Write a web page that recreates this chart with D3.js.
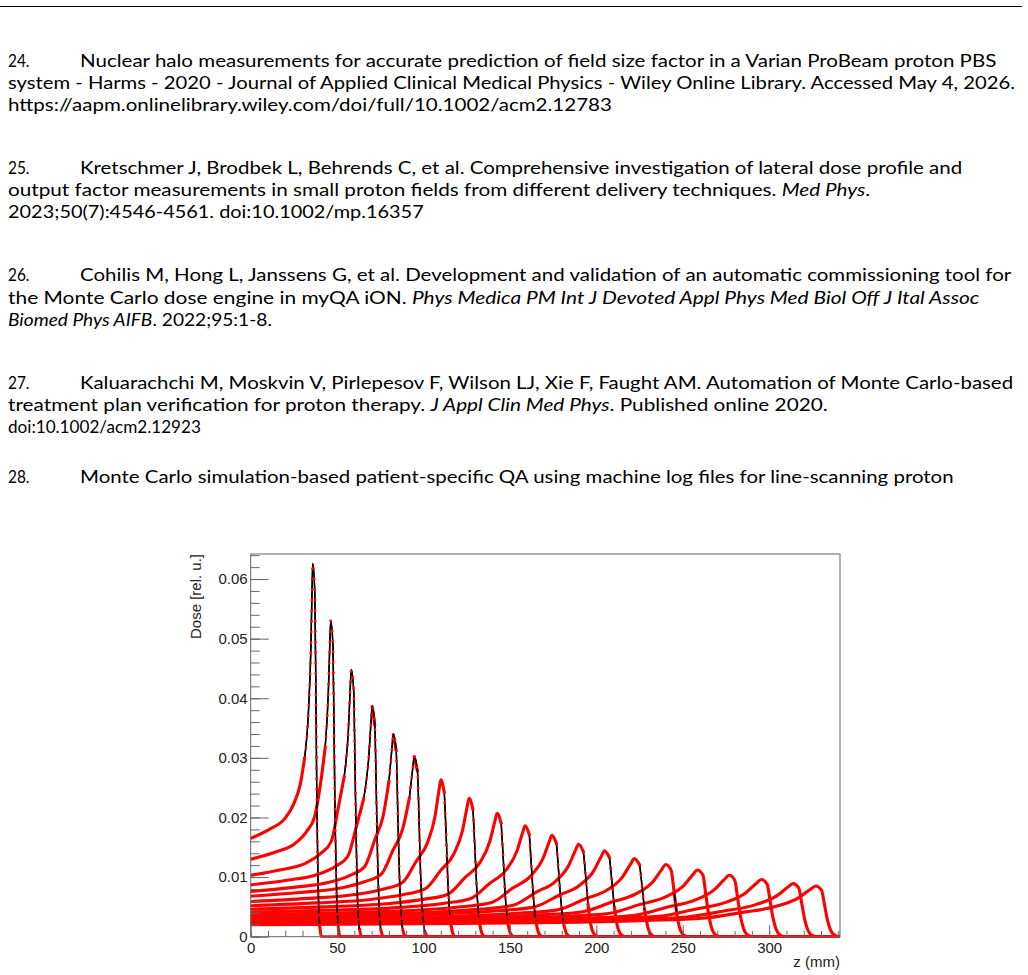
<!DOCTYPE html>
<html>
<head>
<meta charset="utf-8">
<script src="https://cdn.jsdelivr.net/npm/d3@7"></script>
<style>
body{margin:0;background:#fff;}
svg{display:block;}
</style>
</head>
<body>
<svg id="page" width="1028" height="975"></svg>
<script>
// ---- reference list text (page above the figure)
var refNumbers = ["24.", null, null, "25.", null, null, "26.", null, null, "27.", null, null, "28."];
var refText = [
  [["Nuclear halo measurements for accurate prediction of field size factor in a Varian ProBeam proton PBS", 0]],
  [["system - Harms - 2020 - Journal of Applied Clinical Medical Physics - Wiley Online Library. Accessed May 4, 2026.", 0]],
  [["https://aapm.onlinelibrary.wiley.com/doi/full/10.1002/acm2.12783", 0]],
  [["Kretschmer J, Brodbek L, Behrends C, et al. Comprehensive investigation of lateral dose profile and", 0]],
  [["output factor measurements in small proton fields from different delivery techniques. ", 0], ["Med Phys", 1], [".", 0]],
  [["2023;50(7):4546-4561. doi:10.1002/mp.16357", 0]],
  [["Cohilis M, Hong L, Janssens G, et al. Development and validation of an automatic commissioning tool for", 0]],
  [["the Monte Carlo dose engine in myQA iON. ", 0], ["Phys Medica PM Int J Devoted Appl Phys Med Biol Off J Ital Assoc", 1]],
  [["Biomed Phys AIFB", 1], [". 2022;95:1-8.", 0]],
  [["Kaluarachchi M, Moskvin V, Pirlepesov F, Wilson LJ, Xie F, Faught AM. Automation of Monte Carlo-based", 0]],
  [["treatment plan verification for proton therapy. ", 0], ["J Appl Clin Med Phys", 1], [". Published online 2020.", 0]],
  [["doi:10.1002/acm2.12923", 0]],
  [["Monte Carlo simulation-based patient-specific QA using machine log files for line-scanning proton", 0]]
];
var lineBase = [67, 89, 111, 174, 196, 218, 281, 304, 326, 389, 411, 433, 483];
var lineEnd = [997, 1016, 612, 963, 871, 424, 1012, 980, 272, 1014, 828, 201, 954];

// ---- depth dose curves: knots (z in mm, dose in rel. u.)
var depthKnots = [
  [0,10.8,19.7,25.1,28.7,31.2,33.4,34.8,35.5,35.9,37.1,37.8,38.3,39.0,39.9,41.0,341],
  [0,13.9,25.5,32.4,37.0,40.3,43.1,44.9,45.8,46.3,47.6,48.3,48.9,49.7,50.6,51.8,341],
  [0,17.5,32.0,40.7,46.6,50.6,54.1,56.5,57.6,58.2,59.6,60.4,61.1,61.8,62.9,64.2,341],
  [0,21.1,38.7,49.2,56.2,61.2,65.4,68.2,69.6,70.3,71.8,72.7,73.4,74.2,75.3,76.7,341],
  [0,24.8,45.4,57.8,66.0,71.8,76.7,80.0,81.7,82.5,84.2,85.1,85.9,86.8,88.1,89.6,341],
  [0,28.4,52.0,66.2,75.7,82.3,88.0,91.8,93.7,94.6,96.5,97.5,98.3,99.4,100.7,102.4,341],
  [0,33.0,60.5,77.0,88.0,95.7,102.3,106.7,108.9,110.0,112.0,113.2,114.1,115.2,116.7,118.5,341],
  [0,37.9,69.5,88.5,101.1,110.0,117.6,122.6,125.1,126.4,128.6,129.8,130.8,132.0,133.6,135.6,341],
  [0,42.8,78.4,99.8,114.1,124.1,132.6,138.3,141.2,142.6,144.9,146.2,147.2,148.5,150.2,152.3,341],
  [0,47.6,87.3,111.2,127.0,138.2,147.7,154.0,157.2,158.8,161.2,162.5,163.6,165.0,166.7,168.9,341],
  [0,52.3,95.9,122.0,139.4,151.6,162.1,169.1,172.6,174.3,176.9,178.3,179.5,180.9,182.8,185.1,341],
  [0,56.9,104.3,132.8,151.8,165.0,176.4,184.0,187.8,189.7,192.5,194.0,195.2,196.7,198.7,201.2,341],
  [0,61.4,112.6,143.3,163.8,178.1,190.4,198.6,202.7,204.7,207.6,209.1,210.4,212.0,214.1,216.7,341],
  [0,66.6,122.1,155.4,177.6,193.1,206.5,215.3,219.8,222.0,225.0,226.6,227.9,229.6,231.7,234.4,341],
  [0,72.1,132.1,168.1,192.2,209.0,223.4,233.0,237.8,240.2,243.3,245.0,246.4,248.0,250.3,253.1,341],
  [0,77.6,142.2,181.0,206.8,224.9,240.4,250.7,255.9,258.5,261.7,263.4,264.9,266.6,268.9,271.8,341],
  [0,83.0,152.2,193.8,221.4,240.8,257.4,268.5,274.0,276.8,280.1,281.8,283.3,285.1,287.4,290.4,341],
  [0,88.7,162.5,206.9,236.4,257.1,274.8,286.6,292.5,295.5,298.8,300.6,302.1,303.9,306.3,309.3,341],
  [0,94.1,172.6,219.7,251.0,273.0,291.8,304.4,310.7,313.8,317.1,318.9,320.4,322.2,324.6,327.6,341],
  [0,98.1,179.9,228.9,261.6,284.5,304.1,317.2,323.7,327.0,330.3,332.1,333.6,335.4,337.8,340.8,341]
];
var doseKnots = [
  [.0165,.0180,.0198,.0224,.0256,.0300,.0376,.0482,.0582,.0626,.0576,.0388,.0219,.0088,.0019,0,0],
  [.0130,.01417,.0156,.01768,.02015,.02544,.0318,.04081,.04929,.0530,.04876,.03286,.01855,.00742,.00159,0,0],
  [.0103,.01123,.01236,.01401,.01597,.0215,.02688,.0345,.04166,.0448,.04122,.02778,.01568,.00627,.00134,0,0],
  [.0087,.00948,.01044,.01183,.01349,.01853,.02316,.02972,.0359,.0386,.03551,.02393,.01351,.0054,.00116,0,0],
  [.0076,.00828,.00912,.01034,.01178,.01627,.02034,.0261,.03153,.0339,.03119,.02102,.01187,.00475,.00102,0,0],
  [.0068,.00741,.00816,.00925,.01054,.0145,.01812,.02325,.02809,.0302,.02778,.01872,.01057,.00423,.00091,0,0],
  [.0059,.00643,.00708,.00802,.00915,.01262,.01578,.02025,.02446,.0263,.0242,.01631,.00921,.00368,.00079,0,0],
  [.0052,.00567,.00624,.00707,.00806,.01114,.01392,.01786,.02158,.0232,.02134,.01438,.00812,.00325,.0007,0,0],
  [.0046,.00501,.00552,.00626,.00713,.00994,.01242,.01594,.01925,.0207,.01904,.01283,.00725,.0029,.00062,0,0],
  [.0041,.00447,.00492,.00558,.00636,.00893,.01116,.01432,.0173,.0186,.01711,.01153,.00651,.0026,.00056,0,0],
  [.0037,.00403,.00444,.00503,.00574,.00816,.0102,.01309,.01581,.0170,.01564,.01054,.00595,.00238,.00051,0,0],
  [.0034,.00371,.00408,.00462,.00527,.00744,.0093,.01194,.01442,.0155,.01426,.00961,.00543,.00217,.00047,0,0],
  [.0032,.00349,.00384,.00435,.00496,.00691,.00864,.01109,.01339,.0144,.01325,.00893,.00504,.00202,.00043,0,0],
  [.0029,.00316,.00348,.00394,.0045,.00629,.00786,.01009,.01218,.0131,.01205,.00812,.00459,.00183,.00039,0,0],
  [.0027,.00294,.00324,.00367,.00419,.00581,.00726,.00932,.01125,.0121,.01113,.0075,.00424,.00169,.00036,0,0],
  [.0025,.00273,.003,.0034,.00388,.00538,.00672,.00862,.01042,.0112,.0103,.00694,.00392,.00157,.00034,0,0],
  [.0023,.00251,.00276,.00313,.00357,.00494,.00618,.00793,.00958,.0103,.00948,.00639,.00361,.00144,.00031,0,0],
  [.0022,.0024,.00264,.00299,.00341,.00461,.00576,.00739,.00893,.0096,.00883,.00595,.00336,.00134,.00029,0,0],
  [.0021,.00229,.00252,.00286,.00326,.00427,.00534,.00685,.00828,.0089,.00819,.00552,.00312,.00125,.00027,0,0],
  [.0020,.00218,.0024,.00272,.0031,.00408,.0051,.00655,.00791,.0085,.00782,.00527,.00298,.00119,.00026,0,0]
];

var xMajor = [0, 50, 100, 150, 200, 250, 300];
var yMajor = [0, 0.01, 0.02, 0.03, 0.04, 0.05, 0.06];
var yLabels = ["0", "0.01", "0.02", "0.03", "0.04", "0.05", "0.06"];

var svg = d3.select("#page");

// rule at the top of the page
svg.append("line")
   .attr("x1", 0).attr("x2", 1022)
   .attr("y1", 6.5).attr("y2", 6.5)
   .attr("stroke", "#000").attr("stroke-width", 1);

// reference list, each line stretched to the width it has on the page
var docFont = "Lato, 'Open Sans', sans-serif";
refText.forEach(function(parts, i) {
  var startX = refNumbers[i] ? 80 : 8;
  if (refNumbers[i]) {
    svg.append("text")
       .attr("x", 8).attr("y", lineBase[i])
       .attr("font-family", docFont).attr("font-size", "17.5px")
       .attr("fill", "#000")
       .attr("transform", "translate(8," + lineBase[i] + ") scale(0.88,1) translate(-8," + (-lineBase[i]) + ")")
       .text(refNumbers[i]);
  }
  var t = svg.append("text")
             .attr("font-family", docFont).attr("font-size", "17.5px")
             .attr("fill", "#000");
  parts.forEach(function(p) {
    t.append("tspan")
     .attr("font-style", p[1] ? "italic" : "normal")
     .text(p[0]);
  });
  var w = t.node().getComputedTextLength();
  var sx = (lineEnd[i] - startX) / w;
  t.attr("transform", "translate(" + startX + "," + lineBase[i] + ") scale(" + sx + ",1)");
});

// ---- the plot
var frame = {left: 250.7, right: 840, top: 554, bottom: 936.7};

var xScale = d3.scaleLinear()
               .domain([0, 341])
               .range([frame.left, frame.right]);
var yScale = d3.scaleLinear()
               .domain([0, 0.0642])
               .range([frame.bottom, frame.top]);

svg.append("clipPath").attr("id", "plotClip")
   .append("rect")
   .attr("x", frame.left).attr("y", frame.top - 2)
   .attr("width", frame.right - frame.left)
   .attr("height", frame.bottom - frame.top + 3);

var curves = depthKnots.map(function(zs, i) {
  return zs.map(function(z, j) { return [z, doseKnots[i][j]]; });
});

// mark segments that are steep on screen (markers spread apart there)
var steepOf = function(pts) {
  var seg = [];
  for (var j = 0; j < pts.length - 1; j++) {
    var dx = xScale(pts[j + 1][0]) - xScale(pts[j][0]);
    var dy = Math.abs(yScale(pts[j + 1][1]) - yScale(pts[j][1]));
    seg.push(dy / Math.max(dx, 0.01) >= 8);
  }
  return seg;
};

var plot = svg.append("g").attr("clip-path", "url(#plotClip)");

var baseLine = d3.line()
                 .x(function(d) { return xScale(d[0]); })
                 .y(function(d) { return yScale(d[1]); })
                 .curve(d3.curveMonotoneX);

// measured curves (black)
plot.selectAll(".measured")
    .data(curves)
    .enter()
    .append("path")
    .attr("class", "measured")
    .attr("d", baseLine)
    .attr("fill", "none")
    .attr("stroke", "#000")
    .attr("stroke-width", 1.3);

// simulated markers (red), dense where the curve is flat
plot.selectAll(".simFlat")
    .data(curves)
    .enter()
    .append("path")
    .attr("class", "simFlat")
    .attr("d", function(pts) {
      var seg = steepOf(pts);
      return d3.line()
               .x(function(d) { return xScale(d[0]); })
               .y(function(d) { return yScale(d[1]); })
               .defined(function(d, j) {
                 return (j > 0 && !seg[j - 1]) || (j < pts.length - 1 && !seg[j]);
               })
               .curve(d3.curveMonotoneX)(pts);
    })
    .attr("fill", "none")
    .attr("stroke", "#ff0000")
    .attr("stroke-width", 3.1)
    .attr("stroke-linecap", "round");

// steep parts: black line with spread red markers on top
var steepLine = function(pts) {
  var seg = steepOf(pts);
  return d3.line()
           .x(function(d) { return xScale(d[0]); })
           .y(function(d) { return yScale(d[1]); })
           .defined(function(d, j) {
             return (j > 0 && seg[j - 1]) || (j < pts.length - 1 && seg[j]);
           })
           .curve(d3.curveMonotoneX)(pts);
};

plot.selectAll(".measSteep")
    .data(curves)
    .enter()
    .append("path")
    .attr("class", "measSteep")
    .attr("d", steepLine)
    .attr("fill", "none")
    .attr("stroke", "#000")
    .attr("stroke-width", 1.6);

plot.selectAll(".simSteep")
    .data(curves)
    .enter()
    .append("path")
    .attr("class", "simSteep")
    .attr("d", steepLine)
    .attr("fill", "none")
    .attr("stroke", "#ff0000")
    .attr("stroke-width", 2.6)
    .attr("stroke-linecap", "round")
    .attr("stroke-dasharray", "0.5,10");

// frame
svg.append("rect")
   .attr("x", frame.left).attr("y", frame.top)
   .attr("width", frame.right - frame.left)
   .attr("height", frame.bottom - frame.top)
   .attr("fill", "none")
   .attr("stroke", "#666")
   .attr("stroke-width", 1);

// axes, ticks inside the frame
var axisFont = "'Liberation Sans', Arial, Helvetica, sans-serif";

svg.append("g")
   .attr("transform", "translate(" + frame.left + ",0)")
   .attr("color", "#666")
   .call(d3.axisLeft(yScale).tickValues(d3.range(0, 0.0641, 0.002)).tickSize(-9).tickFormat(""))
   .call(function(g) { g.select(".domain").remove(); });

svg.append("g")
   .attr("transform", "translate(" + frame.left + ",0)")
   .attr("color", "#666")
   .call(d3.axisLeft(yScale).tickValues(yMajor).tickSize(-18).tickPadding(3)
           .tickFormat(function(d, i) { return yLabels[i]; }))
   .attr("font-family", axisFont)
   .attr("font-size", 15)
   .call(function(g) { g.select(".domain").remove(); })
   .call(function(g) { g.selectAll("text").attr("fill", "#222"); });

svg.append("g")
   .attr("transform", "translate(0," + frame.bottom + ")")
   .attr("color", "#666")
   .call(d3.axisBottom(xScale).tickValues(d3.range(0, 341, 10)).tickSize(-5.8).tickFormat(""))
   .call(function(g) { g.select(".domain").remove(); });

svg.append("g")
   .attr("transform", "translate(0," + frame.bottom + ")")
   .attr("color", "#666")
   .call(d3.axisBottom(xScale).tickValues(xMajor).tickSize(-11.5).tickPadding(6))
   .attr("font-family", axisFont)
   .attr("font-size", 15)
   .call(function(g) { g.select(".domain").remove(); })
   .call(function(g) { g.selectAll("text").attr("fill", "#222"); });

// axis titles
svg.append("text")
   .attr("x", frame.right).attr("y", 967)
   .attr("text-anchor", "end")
   .attr("font-family", axisFont).attr("font-size", 15)
   .attr("fill", "#222")
   .text("z (mm)");

svg.append("text")
   .attr("transform", "translate(201," + frame.top + ") rotate(-90)")
   .attr("text-anchor", "end")
   .attr("font-family", axisFont).attr("font-size", 15)
   .attr("fill", "#222")
   .text("Dose [rel. u.]");
</script>
</body>
</html>
